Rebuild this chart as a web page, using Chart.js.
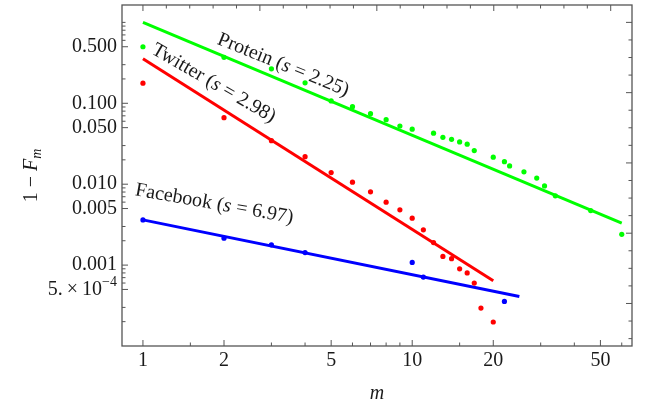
<!DOCTYPE html>
<html lang="en">
<head>
<meta charset="UTF-8">
<title>1 - F_m against m</title>
<script src="https://cdn.jsdelivr.net/npm/chart.js@4"></script>
<style>
  html, body { margin: 0; padding: 0; background: #fff; }
</style>
</head>
<body>
<canvas id="chart" width="651" height="413"></canvas>
<script>
// values
const proteinM = [1, 2, 3, 4, 5, 6, 7, 8, 9, 10, 12, 13, 14, 15, 16, 17, 20, 22, 23, 26, 29, 31, 34, 46, 60];
const proteinF = [0.50, 0.37, 0.267, 0.179, 0.107, 0.0908, 0.0745, 0.0627, 0.0524, 0.0478, 0.0427, 0.0380, 0.0359,
                  0.0333, 0.0312, 0.0260, 0.0216, 0.0190, 0.0168, 0.0142, 0.0119, 0.00953, 0.00718, 0.00472, 0.0024];
const twitterM = [1, 2, 3, 4, 5, 6, 7, 8, 9, 10, 11, 12, 13, 14, 15, 16, 17, 18, 20];
const twitterF = [0.177, 0.0664, 0.0345, 0.0219, 0.0139, 0.0106, 0.00804, 0.0060, 0.00482, 0.0038, 0.00273, 0.0019,
                  0.00128, 0.0012, 0.0009, 0.0008, 0.0006, 0.000294, 0.000198];
const facebookM = [1, 2, 3, 4, 10, 11, 22];
const facebookF = [0.00362, 0.00215, 0.00178, 0.00143, 0.00108, 0.000711, 0.000356];

// fitted power laws (end points)
const proteinFitM = [1, 60];
const proteinFitF = [1.0, 0.0033];
const twitterFitM = [1, 20];
const twitterFitF = [0.356, 0.00064];
const facebookFitM = [1, 25];
const facebookFitF = [0.00362, 0.00041];

const seriesNames = ['Protein', 'Twitter', 'Facebook'];
const seriesS = ['2.25', '2.98', '6.97'];

// axis ticks
const xMajorTicks = [1, 2, 5, 10, 20, 50];
const xMinorTicks = [1.5, 3, 4, 6, 7, 8, 9, 15, 30, 40, 60];
const yMajorTicks = [0.0005, 0.001, 0.005, 0.01, 0.05, 0.1, 0.5];
const yTickLabels = ['', '0.001', '0.005', '0.010', '0.050', '0.100', '0.500'];
const yMinorTicks = [1, 0.9, 0.8, 0.7, 0.6, 0.3, 0.2, 0.09, 0.08, 0.07, 0.06, 0.03, 0.02,
                     0.009, 0.008, 0.007, 0.006, 0.003, 0.002, 0.0009, 0.0008, 0.0007, 0.0006, 0.0003, 0.0002];

const GREEN = '#00ff00';
const RED = '#ff0000';
const BLUE = '#0000ff';
const FRAME = '#555555';
const TEXT = '#1a1a1a';
const SERIF = '"Liberation Serif", "Times New Roman", serif';
const FS = 20;

// where the series names sit (data coords) and their slant in degrees
const notes = [
  { x: 3.32, y: 0.297, angle: 22 },
  { x: 1.83, y: 0.1766, angle: 30 },
  { x: 1.84, y: 0.00569, angle: 10 }
];

const pts = (m, f) => m.map((v, i) => ({ x: v, y: f[i] }));

function drawParts(ctx, parts, cx, cy, angle) {
  ctx.save();
  ctx.translate(cx, cy);
  ctx.rotate(angle * Math.PI / 180);
  ctx.textBaseline = 'middle';
  ctx.textAlign = 'left';
  let total = 0;
  parts.forEach(p => { ctx.font = p.font; p.w = ctx.measureText(p.t).width; total += p.w; });
  let px = -total / 2;
  parts.forEach(p => {
    ctx.font = p.font;
    ctx.fillText(p.t, px, p.dy || 0);
    px += p.w;
  });
  ctx.restore();
}

const frameTicks = {
  id: 'frameTicks',
  afterDatasetsDraw(chart) {
    const { ctx, chartArea: a, scales: { x, y } } = chart;
    ctx.save();

    // series names along the fits
    ctx.fillStyle = TEXT;
    notes.forEach((n, i) => {
      drawParts(ctx, [
        { t: seriesNames[i] + ' (', font: FS + 'px ' + SERIF },
        { t: 's', font: 'italic ' + FS + 'px ' + SERIF },
        { t: ' = ' + seriesS[i] + ')', font: FS + 'px ' + SERIF }
      ], x.getPixelForValue(n.x), y.getPixelForValue(n.y), n.angle);
    });

    // frame
    ctx.strokeStyle = FRAME;
    ctx.lineWidth = 1.3;
    ctx.strokeRect(a.left, a.top, a.right - a.left, a.bottom - a.top);

    ctx.lineWidth = 1;
    const seg = (x1, y1, x2, y2) => { ctx.beginPath(); ctx.moveTo(x1, y1); ctx.lineTo(x2, y2); ctx.stroke(); };

    // bottom: log ticks
    xMajorTicks.forEach(v => { const p = x.getPixelForValue(v); seg(p, a.bottom, p, a.bottom - 6); });
    xMinorTicks.forEach(v => { const p = x.getPixelForValue(v); seg(p, a.bottom, p, a.bottom - 3.5); });
    // left: log ticks
    yMajorTicks.forEach(v => { const p = y.getPixelForValue(v); seg(a.left, p, a.left + 6, p); });
    yMinorTicks.forEach(v => { const p = y.getPixelForValue(v); seg(a.left, p, a.left + 3.5, p); });
    // top: natural-log units, every 0.2
    for (let k = 0; k <= 20; k++) {
      const p = x.getPixelForValue(Math.exp(0.2 * k));
      seg(p, a.top, p, a.top + (k % 5 === 0 ? 6 : 3.5));
    }
    // right: natural-log units, every 0.5
    for (let k = 0; k <= 18; k++) {
      const p = y.getPixelForValue(Math.exp(-0.5 * k));
      seg(a.right, p, a.right - (k % 4 === 0 ? 6 : 3.5), p);
    }

    // 5 x 10^-4 label
    ctx.fillStyle = TEXT;
    ctx.textBaseline = 'middle';
    ctx.textAlign = 'right';
    const py = y.getPixelForValue(0.0005);
    const right = a.left - 5;
    ctx.font = '14px ' + SERIF;
    const supW = ctx.measureText('\u22124').width;
    ctx.fillText('\u22124', right, py - 7);
    ctx.font = FS + 'px ' + SERIF;
    ctx.fillText('5.\u2009\u00d7\u200910', right - supW, py);

    // axis titles
    ctx.textAlign = 'center';
    ctx.font = 'italic ' + FS + 'px ' + SERIF;
    ctx.fillText('m', (a.left + a.right) / 2, 394);

    ctx.translate(32, (a.top + a.bottom) / 2);
    ctx.rotate(-Math.PI / 2);
    ctx.textAlign = 'left';
    const parts = [
      { t: '1 \u2212 ', font: FS + 'px ' + SERIF, dy: 0 },
      { t: 'F', font: 'italic ' + FS + 'px ' + SERIF, dy: 0 },
      { t: 'm', font: 'italic 14px ' + SERIF, dy: 5 }
    ];
    let w = 0;
    parts.forEach(p => { ctx.font = p.font; p.w = ctx.measureText(p.t).width; w += p.w; });
    let px = -w / 2;
    parts.forEach(p => { ctx.font = p.font; ctx.fillText(p.t, px, p.dy); px += p.w; });

    ctx.restore();
  }
};

const scatterSet = (data, color) => ({
  data, showLine: false, pointRadius: 2.6, pointHoverRadius: 2.6,
  pointBackgroundColor: color, pointBorderWidth: 0, borderColor: color
});
const fitSet = (data, color) => ({
  data, showLine: true, pointRadius: 0, borderColor: color, borderWidth: 3, fill: false
});

new Chart(document.getElementById('chart'), {
  type: 'scatter',
  data: {
    datasets: [
      scatterSet(pts(proteinM, proteinF), GREEN),
      scatterSet(pts(twitterM, twitterF), RED),
      scatterSet(pts(facebookM, facebookF), BLUE),
      fitSet(pts(proteinFitM, proteinFitF), GREEN),
      fitSet(pts(twitterFitM, twitterFitF), RED),
      fitSet(pts(facebookFitM, facebookFitF), BLUE)
    ]
  },
  options: {
    responsive: false,
    animation: false,
    layout: { padding: { top: 5, right: 19, left: 0, bottom: 0 } },
    plugins: { legend: { display: false }, tooltip: { enabled: false } },
    scales: {
      x: {
        type: 'logarithmic', min: 0.836, max: 65.5,
        border: { display: false },
        grid: { display: false, drawTicks: false },
        afterBuildTicks: s => { s.ticks = xMajorTicks.map(v => ({ value: v })); },
        afterFit: s => { s.height = 67; s.paddingLeft = 0; s.paddingRight = 0; },
        ticks: {
          autoSkip: false, maxRotation: 0, padding: 3, color: TEXT,
          font: { family: SERIF, size: FS },
          callback: v => String(v)
        }
      },
      y: {
        type: 'logarithmic', min: 0.0001, max: 1.64,
        border: { display: false },
        grid: { display: false, drawTicks: false },
        afterBuildTicks: s => { s.ticks = yMajorTicks.map(v => ({ value: v })); },
        afterFit: s => { s.width = 122; s.paddingTop = 0; s.paddingBottom = 0; },
        ticks: {
          autoSkip: false, padding: 5, color: TEXT,
          font: { family: SERIF, size: FS },
          callback: (v, i) => yTickLabels[i]
        }
      }
    }
  },
  plugins: [frameTicks]
});
</script>
</body>
</html>
